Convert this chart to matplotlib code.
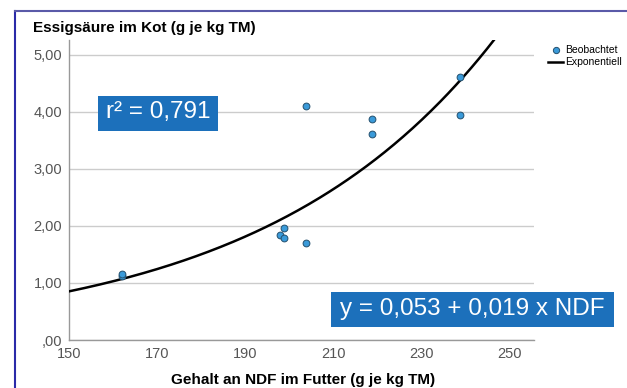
import numpy as np
import matplotlib.pyplot as plt
from matplotlib.lines import Line2D
from matplotlib.patches import Rectangle

plt.rcParams['font.family'] = ['Liberation Sans', 'DejaVu Sans']

ndf = np.array([162, 162, 197.8, 198.8, 198.8, 203.8, 203.7, 218.8, 218.8, 238.8, 238.8])
essig = np.array([1.12, 1.16, 1.84, 1.96, 1.78, 1.70, 4.10, 3.88, 3.62, 3.94, 4.61])

# Exponentielle Anpassung y = a * exp(b * x), Parameter
a_exp = 0.0503
b_exp = 0.01887

x_ticks = [150, 170, 190, 210, 230, 250]
y_ticks = [0, 1, 2, 3, 4, 5]
y_labels = [",00", "1,00", "2,00", "3,00", "4,00", "5,00"]

W, H = 627, 388
fig = plt.figure(figsize=(6.27, 3.88), dpi=100)
ax = fig.add_axes([69 / W, 1 - 340 / H, (534 - 69) / W, 300 / H])

x_fit = np.linspace(150, 255, 300)
y_fit = a_exp * np.exp(b_exp * x_fit)
ax.plot(x_fit, y_fit, color="black", lw=1.8, zorder=3)
ax.scatter(ndf, essig, s=24, color="#3a9ad9", edgecolor="#24506e", linewidth=0.7, zorder=4)

ax.set_xlim(150, 255.5)
ax.set_ylim(0, 5.26)
ax.set_xticks(x_ticks)
ax.set_yticks(y_ticks)
ax.set_yticklabels(y_labels)
ax.tick_params(length=0, labelsize=10.5, colors="#555555", pad=5)
ax.grid(axis="y", color="#cccccc", lw=1)
ax.set_axisbelow(True)
for s in ["top", "right"]:
    ax.spines[s].set_visible(False)
for s in ["left", "bottom"]:
    ax.spines[s].set_color("#999999")
    ax.spines[s].set_linewidth(1)

fig.text(33 / W, 1 - 28 / H, "Essigsäure im Kot (g je kg TM)", fontsize=11,
         fontweight="bold", va="center", ha="left")
fig.text(303 / W, 1 - 380 / H, "Gehalt an NDF im Futter (g je kg TM)", fontsize=11,
         fontweight="bold", va="center", ha="center")

# blaue Kästen
blau = "#1c70bb"
fig.add_artist(Rectangle((98 / W, 1 - 131 / H), 120 / W, 35 / H, transform=fig.transFigure,
                         facecolor=blau, edgecolor="none", zorder=5))
fig.text(158 / W, 1 - 112 / H, "r² = 0,791", fontsize=17.5, color="white",
         ha="center", va="center", zorder=6)
fig.add_artist(Rectangle((331 / W, 1 - 327 / H), 283 / W, 35 / H, transform=fig.transFigure,
                         facecolor=blau, edgecolor="none", zorder=5))
fig.text(472.5 / W, 1 - 308.5 / H, "y = 0,053 + 0,019 x NDF", fontsize=17.5, color="white",
         ha="center", va="center", zorder=6)

handles = [Line2D([], [], marker="o", ls="none", markersize=4.5, markerfacecolor="#3a9ad9",
                  markeredgecolor="#24506e", markeredgewidth=0.7),
           Line2D([], [], color="black", lw=1.8)]
fig.legend(handles, ["Beobachtet", "Exponentiell"], loc="upper left",
           bbox_to_anchor=(543 / W, 1 - 40 / H), frameon=False, fontsize=7.5,
           handlelength=1.4, handletextpad=0.2, labelspacing=0.2, borderpad=0)

# Rahmen
fig.add_artist(Line2D([15.5 / W, 15.5 / W], [0, 1 - 11 / H], color="#2a2aa8", lw=1.5))
fig.add_artist(Line2D([15 / W, 1], [1 - 11 / H, 1 - 11 / H], color="#5a5aa8", lw=1.5))

fig.savefig("out.png", dpi=100)
